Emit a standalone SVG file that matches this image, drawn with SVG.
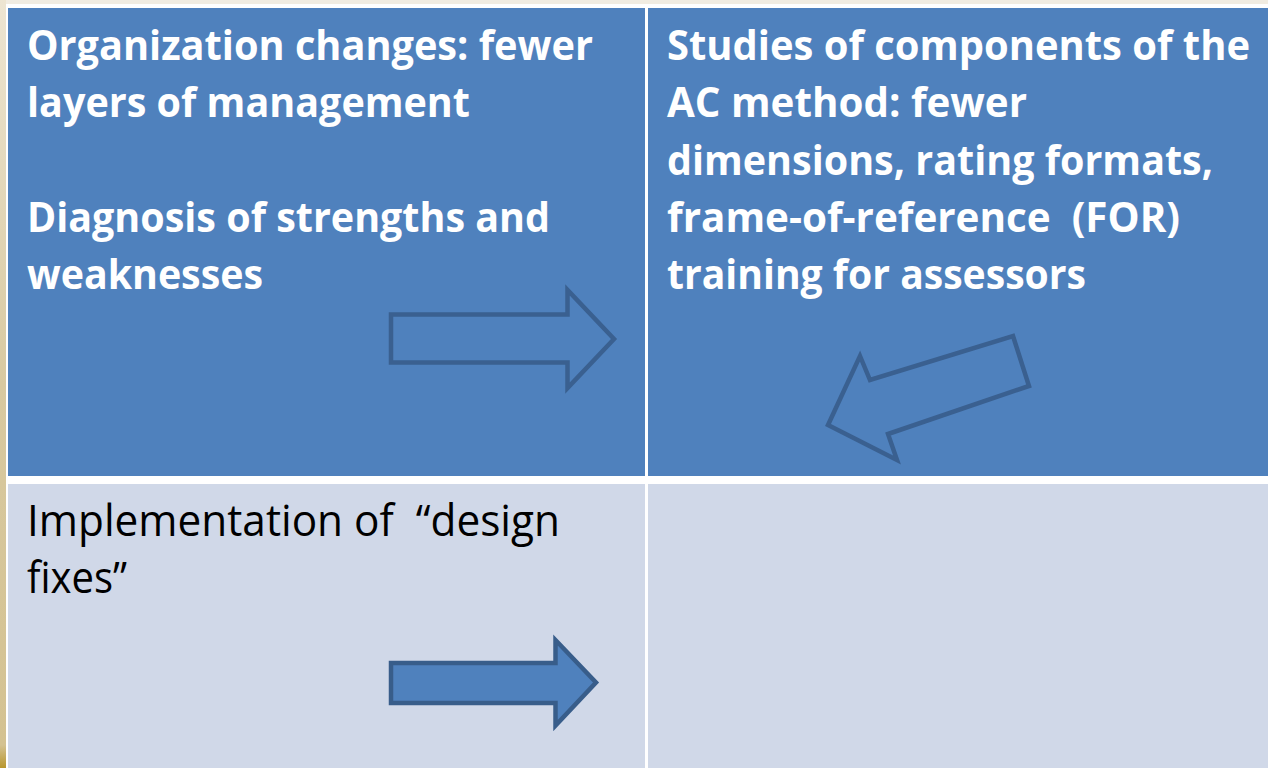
<svg xmlns="http://www.w3.org/2000/svg" width="1268" height="768" viewBox="0 0 1268 768" xml:space="preserve">
<defs>
<linearGradient id="tan" x1="0" y1="0" x2="0" y2="1">
<stop offset="0" stop-color="#EDE5D2"/>
<stop offset="0.5" stop-color="#D8C9A0"/>
<stop offset="0.97" stop-color="#D4C291"/>
<stop offset="1" stop-color="#B8962E"/>
</linearGradient>
<style>
.dark{fill:#4F81BD}
.light{fill:#D0D8E8}
text{white-space:pre}
.tb{font-family:"Open Sans","Liberation Sans",sans-serif;font-weight:700;font-size:42px;fill:#FFFFFF}
.tn{font-family:"Open Sans","Liberation Sans",sans-serif;font-weight:400;font-size:44px;fill:#000000}
.outline{fill:none;stroke:#3A6090;stroke-width:4.5;stroke-linejoin:miter}
.solid{fill:#4F81BD;stroke:#385D8A;stroke-width:4.5;stroke-linejoin:miter}
</style>
</defs>
<rect x="0" y="0" width="1268" height="768" fill="#F1ECE1"/>
<rect x="0" y="0" width="6" height="768" fill="url(#tan)"/>
<rect x="6" y="4" width="1262" height="764" fill="#FFFFFF"/>
<g id="cell-top-left">
<rect class="dark" x="8" y="8" width="637" height="468"/>
<text class="tb" x="27" y="60" textLength="566" lengthAdjust="spacingAndGlyphs">Organization changes: fewer</text>
<text class="tb" x="27" y="117" textLength="443" lengthAdjust="spacingAndGlyphs">layers of management</text>
<text class="tb" x="27" y="232" textLength="523" lengthAdjust="spacingAndGlyphs">Diagnosis of strengths and</text>
<text class="tb" x="27" y="289" textLength="236" lengthAdjust="spacingAndGlyphs">weaknesses</text>
</g>
<g id="cell-top-right">
<rect class="dark" x="648" y="8" width="620" height="468"/>
<text class="tb" x="667" y="60" textLength="583" lengthAdjust="spacingAndGlyphs">Studies of components of the</text>
<text class="tb" x="667" y="117" textLength="360" lengthAdjust="spacingAndGlyphs">AC method: fewer</text>
<text class="tb" x="667" y="175" textLength="546" lengthAdjust="spacingAndGlyphs">dimensions, rating formats,</text>
<text class="tb" x="667" y="232" textLength="513" lengthAdjust="spacingAndGlyphs">frame-of-reference  (FOR)</text>
<text class="tb" x="667" y="289" textLength="419" lengthAdjust="spacingAndGlyphs">training for assessors</text>
</g>
<g id="cell-bottom-left">
<rect class="light" x="8" y="484" width="637" height="284"/>
<text class="tn" x="27" y="536" textLength="533" lengthAdjust="spacingAndGlyphs">Implementation of  “design</text>
<text class="tn" x="27" y="593" textLength="100" lengthAdjust="spacingAndGlyphs">fixes”</text>
</g>
<g id="cell-bottom-right">
<rect class="light" x="648" y="484" width="620" height="284"/>
</g>
<g id="connectors">
<polygon class="outline" points="391,314.5 567.5,314.5 567.5,290 614,339 567.5,388 567.5,362.5 391,362.5"/>
<polygon class="outline" points="1013,336 1029,386 888,434 897,460 828,425 860,356 870,380"/>
<polygon class="solid" points="391,663 555.5,663 555.5,640 596,682.5 555.5,725.5 555.5,703 391,703"/>
</g>
</svg>
